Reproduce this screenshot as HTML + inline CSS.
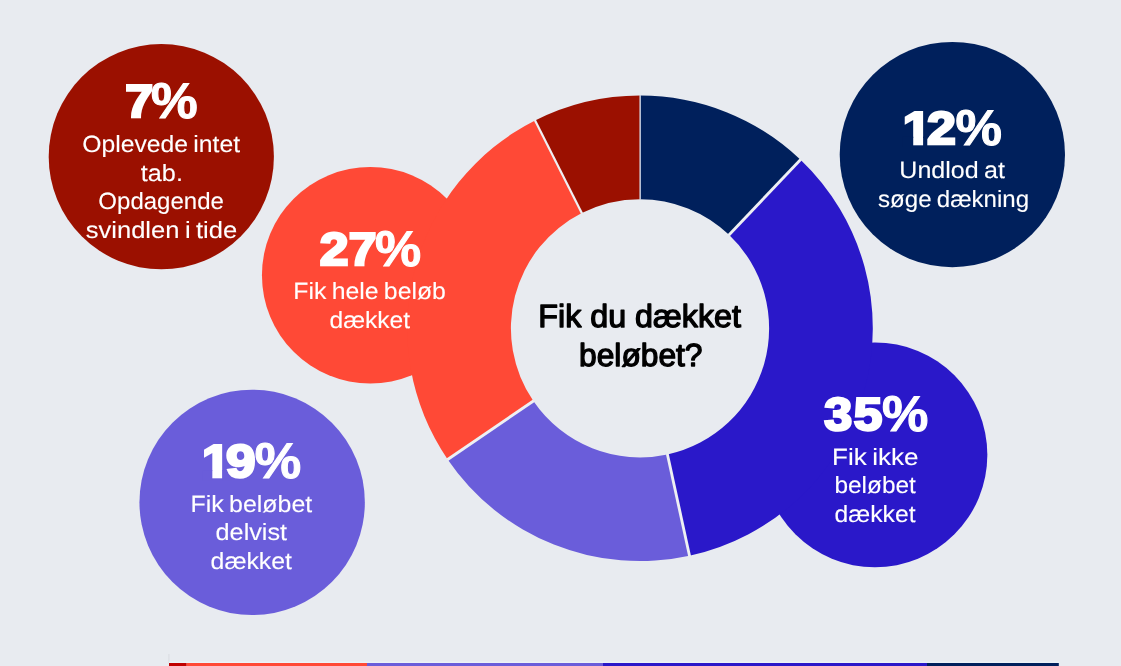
<!DOCTYPE html>
<html lang="da"><head><meta charset="utf-8"><title>Fik du dækket beløbet?</title>
<style>
html,body{margin:0;padding:0;background:#E8EBF0;}
body{width:1121px;height:666px;overflow:hidden;}
svg{display:block;}
text{font-family:"Liberation Sans",Arial,sans-serif;text-rendering:geometricPrecision;}
.lbl{fill:#fff;font-size:23.5px;stroke:#fff;stroke-width:0.1px;word-spacing:-1.5px;}
.num{fill:#fff;font-weight:bold;stroke:#fff;stroke-linejoin:miter;}
.d{font-size:46.00px;stroke-width:2.6px;}
.p{font-size:50.17px;stroke-width:1.0px;}
.ctr{fill:#000;font-size:32px;stroke:#000;stroke-width:1.3px;stroke-linejoin:round;}
</style></head><body>
<svg width="1121" height="666" viewBox="0 0 1121 666">
<rect width="1121" height="666" fill="#E8EBF0"/>
<circle cx="161.3" cy="156.7" r="112.6" fill="#9B1000"/>
<circle cx="952.35" cy="154.55" r="112.65" fill="#00205C"/>
<circle cx="252.15" cy="502.35" r="112.7" fill="#6A5DDA"/>
<circle cx="370.3" cy="275.25" r="108.35" fill="#FF4936"/>
<circle cx="874.9" cy="454.85" r="112.45" fill="#2A18C9"/>
<path d="M640.00 95.50A232.8 232.8 0 0 1 800.54 159.71L729.03 234.81A129.1 129.1 0 0 0 640.00 199.20Z" fill="#00205C"/>
<path d="M800.54 159.71A232.8 232.8 0 0 1 689.51 555.77L667.46 454.45A129.1 129.1 0 0 0 729.03 234.81Z" fill="#2A18C9"/>
<path d="M689.51 555.77A232.8 232.8 0 0 1 447.68 459.49L533.35 401.05A129.1 129.1 0 0 0 667.46 454.45Z" fill="#6A5DDA"/>
<path d="M447.68 459.49A232.8 232.8 0 0 1 535.04 120.51L581.79 213.07A129.1 129.1 0 0 0 533.35 401.05Z" fill="#FF4936"/>
<path d="M535.04 120.51A232.8 232.8 0 0 1 640.00 95.50L640.00 199.20A129.1 129.1 0 0 0 581.79 213.07Z" fill="#9B1000"/>
<line x1="640.15" y1="199.70" x2="640.15" y2="95.00" stroke="#D4DAE8" stroke-width="1.4"/>
<line x1="728.69" y1="235.17" x2="800.89" y2="159.35" stroke="#EEF0F3" stroke-width="2.85"/>
<line x1="667.35" y1="453.96" x2="689.62" y2="556.26" stroke="#EEF0F3" stroke-width="2.85"/>
<line x1="533.76" y1="400.77" x2="447.27" y2="459.77" stroke="#EEF0F3" stroke-width="2.85"/>
<line x1="582.02" y1="213.51" x2="534.81" y2="120.06" stroke="#EEF0F3" stroke-width="2.2"/>
<text class="lbl" x="82.19" y="152.0" textLength="157.81" lengthAdjust="spacingAndGlyphs">Oplevede intet</text>
<text class="lbl" x="140.84" y="180.6" textLength="42.08" lengthAdjust="spacingAndGlyphs">tab.</text>
<text class="lbl" x="98.38" y="209.0" textLength="125.53" lengthAdjust="spacingAndGlyphs">Opdagende</text>
<text class="lbl" x="85.74" y="238.0" textLength="151.47" lengthAdjust="spacingAndGlyphs">svindlen i tide</text>
<text class="lbl" x="293.26" y="299.0" textLength="152.66" lengthAdjust="spacingAndGlyphs">Fik hele beløb</text>
<text class="lbl" x="329.49" y="328.0" textLength="80.61" lengthAdjust="spacingAndGlyphs">dækket</text>
<text class="lbl" x="899.32" y="178.0" textLength="105.68" lengthAdjust="spacingAndGlyphs">Undlod at</text>
<text class="lbl" x="878.09" y="207.0" textLength="151.03" lengthAdjust="spacingAndGlyphs">søge dækning</text>
<text class="lbl" x="190.47" y="512.0" textLength="121.84" lengthAdjust="spacingAndGlyphs">Fik beløbet</text>
<text class="lbl" x="215.59" y="540.0" textLength="71.52" lengthAdjust="spacingAndGlyphs">delvist</text>
<text class="lbl" x="210.59" y="569.0" textLength="81.41" lengthAdjust="spacingAndGlyphs">dækket</text>
<text class="lbl" x="832.12" y="465.0" textLength="86.41" lengthAdjust="spacingAndGlyphs">Fik ikke</text>
<text class="lbl" x="834.47" y="493.0" textLength="81.43" lengthAdjust="spacingAndGlyphs">beløbet</text>
<text class="lbl" x="834.59" y="522.0" textLength="80.92" lengthAdjust="spacingAndGlyphs">dækket</text>
<text class="ctr" x="538.28" y="326.9" textLength="202.66" lengthAdjust="spacingAndGlyphs">Fik du dækket</text>
<text class="ctr" x="579.08" y="365.5" textLength="123.43" lengthAdjust="spacingAndGlyphs">beløbet?</text>
<text class="num" y="116.70"><tspan class="d" x="125.16" textLength="27.93" lengthAdjust="spacingAndGlyphs">7</tspan><tspan class="p" x="151.12" dy="1.1" textLength="46.64" lengthAdjust="spacingAndGlyphs">%</tspan></text>
<text class="num" y="264.70"><tspan class="d" x="319.87" textLength="28.74" lengthAdjust="spacingAndGlyphs">2</tspan><tspan class="d" x="348.87" textLength="27.71" lengthAdjust="spacingAndGlyphs">7</tspan><tspan class="p" x="375.03" dy="1.1" textLength="46.13" lengthAdjust="spacingAndGlyphs">%</tspan></text>
<text class="num" y="143.70"><tspan class="d" x="902.75" textLength="28.37" lengthAdjust="spacingAndGlyphs">1</tspan></text>
<rect x="902.93" y="136.71" width="10.29" height="10.29" fill="#00205C"/>
<rect x="923.10" y="136.71" width="9.64" height="10.29" fill="#00205C"/>
<text class="num" y="143.70"><tspan class="d" x="926.97" textLength="28.84" lengthAdjust="spacingAndGlyphs">2</tspan><tspan class="p" x="955.42" dy="1.1" textLength="46.44" lengthAdjust="spacingAndGlyphs">%</tspan></text>
<text class="num" y="477.30"><tspan class="d" x="201.98" textLength="28.06" lengthAdjust="spacingAndGlyphs">1</tspan></text>
<rect x="202.13" y="470.31" width="10.20" height="10.29" fill="#6A5DDA"/>
<rect x="222.10" y="470.31" width="9.56" height="10.29" fill="#6A5DDA"/>
<text class="num" y="477.30"><tspan class="d" x="226.06" textLength="29.51" lengthAdjust="spacingAndGlyphs">9</tspan><tspan class="p" x="254.82" dy="1.1" textLength="46.44" lengthAdjust="spacingAndGlyphs">%</tspan></text>
<text class="num" y="430.10"><tspan class="d" x="824.37" textLength="27.93" lengthAdjust="spacingAndGlyphs">3</tspan><tspan class="d" x="853.67" textLength="28.51" lengthAdjust="spacingAndGlyphs">5</tspan><tspan class="p" x="881.92" dy="1.1" textLength="46.33" lengthAdjust="spacingAndGlyphs">%</tspan></text>
<rect x="168.3" y="654" width="1.2" height="9" fill="#DCDEE3"/>
<rect x="169" y="661.6" width="890.4" height="1.4" fill="#ECF2F7"/>
<rect x="169" y="663" width="17.7" height="4" fill="#C00000"/>
<rect x="186.7" y="663" width="180.3" height="4" fill="#FF4936"/>
<rect x="367" y="663" width="236.0" height="4" fill="#6A5DDA"/>
<rect x="603" y="663" width="324.0" height="4" fill="#2A18C9"/>
<rect x="927" y="663" width="131.8" height="4" fill="#00205C"/>
</svg>
</body></html>
